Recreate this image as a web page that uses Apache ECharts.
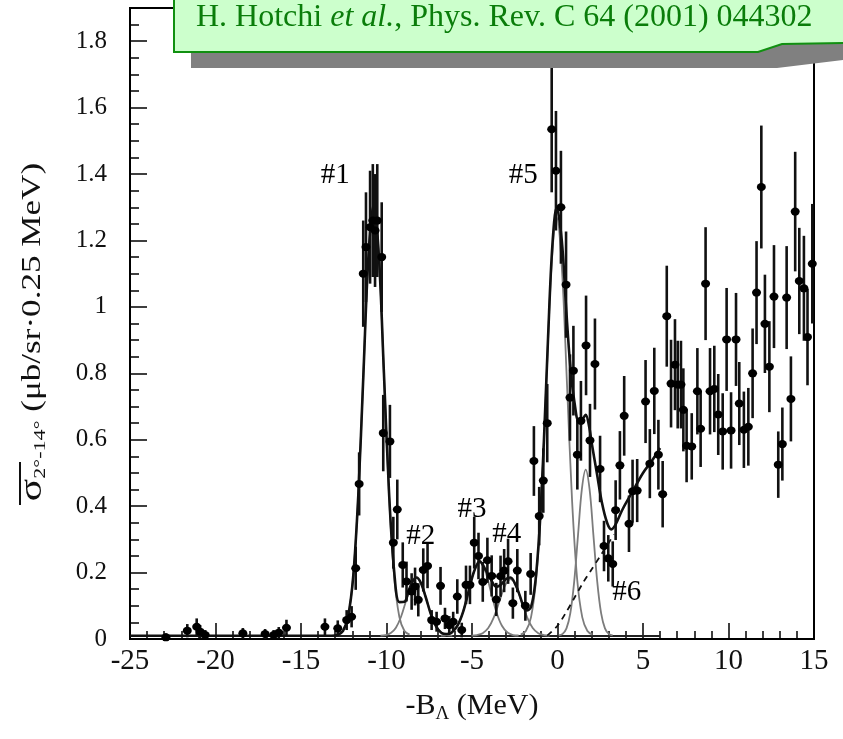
<!DOCTYPE html>
<html lang="en">
<head>
    <meta charset="UTF-8">
    <title>Hypernuclear spectrum</title>
    <script src="https://cdn.jsdelivr.net/npm/echarts@6/dist/echarts.min.js"></script>
    <style>
        html, body { margin: 0; padding: 0; background: #fff; }
    </style>
</head>
<body>
    <div id="main" style="width: 843px;height:739px;"></div>
    <script>
        var chartDom = document.getElementById('main');
        var myChart = echarts.init(chartDom);

        // measured points: [-B_Lambda (MeV), cross section, error]
        const points = [
            [-22.9, 0.005, 0.012], [-21.65, 0.025, 0.02], [-21.1, 0.037, 0.025], [-20.9, 0.022, 0.02],
            [-20.6, 0.012, 0.015], [-18.4, 0.017, 0.016], [-17.1, 0.015, 0.015], [-16.6, 0.012, 0.015],
            [-16.3, 0.019, 0.017], [-15.85, 0.034, 0.024], [-13.6, 0.037, 0.025], [-12.85, 0.032, 0.024],
            [-12.33, 0.057, 0.03], [-12.04, 0.067, 0.032], [-11.8, 0.213, 0.065], [-11.6, 0.467, 0.095],
            [-11.36, 1.10, 0.16], [-11.2, 1.18, 0.165], [-10.96, 1.24, 0.17], [-10.8, 1.26, 0.17],
            [-10.67, 1.23, 0.17], [-10.54, 1.26, 0.17], [-10.28, 1.15, 0.165], [-10.19, 0.62, 0.115],
            [-9.8, 0.595, 0.11], [-9.6, 0.29, 0.078], [-9.37, 0.39, 0.09], [-9.05, 0.223, 0.068],
            [-8.83, 0.173, 0.06], [-8.53, 0.143, 0.055], [-8.33, 0.158, 0.057], [-8.14, 0.118, 0.05],
            [-7.85, 0.208, 0.065], [-7.6, 0.22, 0.067], [-7.36, 0.057, 0.03], [-7.07, 0.052, 0.03],
            [-6.84, 0.16, 0.057], [-6.58, 0.062, 0.032], [-6.33, 0.042, 0.027], [-6.1, 0.052, 0.03],
            [-5.86, 0.128, 0.052], [-5.6, 0.027, 0.022], [-5.35, 0.163, 0.058], [-5.12, 0.163, 0.058],
            [-4.87, 0.29, 0.078], [-4.62, 0.25, 0.07], [-4.37, 0.172, 0.06], [-4.1, 0.237, 0.068],
            [-3.85, 0.19, 0.062], [-3.58, 0.119, 0.05], [-3.33, 0.189, 0.062], [-3.12, 0.206, 0.065],
            [-2.89, 0.234, 0.068], [-2.61, 0.108, 0.047], [-2.35, 0.206, 0.065], [-1.88, 0.10, 0.045],
            [-1.57, 0.196, 0.063], [-1.38, 0.536, 0.105], [-1.07, 0.37, 0.088], [-0.83, 0.477, 0.097],
            [-0.6, 0.65, 0.118], [-0.34, 1.535, 0.19], [-0.09, 1.41, 0.18], [0.2, 1.30, 0.17],
            [0.5, 1.067, 0.16], [0.73, 0.727, 0.13], [0.93, 0.808, 0.135], [1.16, 0.555, 0.105],
            [1.37, 0.657, 0.12], [1.67, 0.884, 0.15], [1.9, 0.598, 0.11], [2.19, 0.828, 0.137],
            [2.49, 0.512, 0.1], [2.72, 0.28, 0.076], [2.97, 0.243, 0.07], [3.23, 0.226, 0.068],
            [3.4, 0.388, 0.09], [3.65, 0.523, 0.103], [3.9, 0.672, 0.12], [4.18, 0.347, 0.085],
            [4.39, 0.445, 0.095], [4.66, 0.447, 0.095], [5.15, 0.715, 0.125], [5.4, 0.528, 0.104],
            [5.66, 0.747, 0.13], [5.9, 0.555, 0.105], [6.15, 0.436, 0.1], [6.39, 0.972, 0.152],
            [6.64, 0.769, 0.132], [6.87, 0.826, 0.137], [7.03, 0.766, 0.132], [7.22, 0.766, 0.132],
            [7.36, 0.69, 0.125], [7.55, 0.582, 0.11], [7.85, 0.58, 0.1], [8.18, 0.746, 0.13],
            [8.37, 0.633, 0.115], [8.66, 1.07, 0.17], [8.92, 0.746, 0.13], [9.17, 0.753, 0.13],
            [9.4, 0.676, 0.122], [9.66, 0.625, 0.115], [9.89, 0.902, 0.155], [10.15, 0.628, 0.115],
            [10.44, 0.902, 0.14], [10.63, 0.709, 0.125], [10.9, 0.63, 0.115], [11.16, 0.639, 0.117],
            [11.41, 0.8, 0.135], [11.64, 1.043, 0.155], [11.92, 1.361, 0.185], [12.13, 0.949, 0.148],
            [12.39, 0.82, 0.137], [12.66, 1.031, 0.155], [12.91, 0.525, 0.1], [13.15, 0.587, 0.11],
            [13.4, 1.028, 0.155], [13.65, 0.723, 0.128], [13.9, 1.287, 0.18], [14.14, 1.078, 0.16],
            [14.41, 1.056, 0.158], [14.62, 0.909, 0.145], [14.9, 1.13, 0.18]
        ];

        // total fit (thick line)
        const fitTotal = [
            [-25, 0.01], [-13.2, 0.01], [-12.85, 0.013], [-12.55, 0.024], [-12.25, 0.067], [-11.95, 0.186],
            [-11.65, 0.432], [-11.35, 0.798], [-11.05, 1.157], [-10.75, 1.31], [-10.45, 1.157], [-10.15, 0.8],
            [-9.85, 0.44], [-9.55, 0.203], [-9.25, 0.111], [-8.95, 0.112], [-8.7, 0.146], [-8.45, 0.176],
            [-8.25, 0.185], [-8.0, 0.17], [-7.7, 0.125], [-7.4, 0.074], [-7.1, 0.038], [-6.8, 0.019],
            [-6.5, 0.015], [-6.2, 0.019], [-5.85, 0.04], [-5.525, 0.081], [-5.2, 0.143], [-4.875, 0.204],
            [-4.55, 0.234], [-4.225, 0.21], [-3.9, 0.18], [-3.575, 0.157], [-3.3, 0.164], [-3.0, 0.181],
            [-2.75, 0.185], [-2.45, 0.163], [-2.2, 0.13], [-2.0, 0.1], [-1.8, 0.086], [-1.55, 0.096],
            [-1.3, 0.17], [-1.05, 0.33], [-0.8, 0.59], [-0.55, 0.91], [-0.3, 1.185], [-0.05, 1.30],
            [0.25, 1.2], [0.5, 1.0], [0.75, 0.82], [1.0, 0.71], [1.25, 0.655], [1.5, 0.665],
            [1.65, 0.675], [1.85, 0.64], [2.0, 0.59], [2.3, 0.5], [2.6, 0.41], [2.9, 0.35],
            [3.15, 0.33], [3.4, 0.345], [3.8, 0.39], [4.4, 0.445], [5.0, 0.5], [5.5, 0.535], [6.0, 0.575]
        ];

        // single peak components (thin grey lines)
        const peak1 = [[-12.85, 0.013], [-12.55, 0.024], [-12.25, 0.067], [-11.95, 0.186], [-11.65, 0.432], [-11.35, 0.798], [-11.05, 1.157], [-10.75, 1.31], [-10.45, 1.157], [-10.15, 0.798], [-9.85, 0.432], [-9.55, 0.186], [-9.25, 0.067], [-8.95, 0.024], [-8.65, 0.013]];
        const peak2 = [[-10.35, 0.0104], [-10.05, 0.012], [-9.75, 0.018], [-9.45, 0.034], [-9.15, 0.067], [-8.85, 0.116], [-8.55, 0.164], [-8.25, 0.185], [-7.95, 0.164], [-7.65, 0.116], [-7.35, 0.067], [-7.05, 0.034], [-6.75, 0.018], [-6.45, 0.012], [-6.15, 0.0104]];
        const peak3 = [[-6.825, 0.0105], [-6.5, 0.012], [-6.175, 0.0197], [-5.85, 0.0398], [-5.525, 0.0814], [-5.2, 0.143], [-4.875, 0.204], [-4.55, 0.23], [-4.225, 0.204], [-3.9, 0.143], [-3.575, 0.0814], [-3.25, 0.0398], [-2.925, 0.0197], [-2.6, 0.012], [-2.275, 0.0105]];
        const peak4 = [[-5.025, 0.0104], [-4.7, 0.012], [-4.375, 0.0175], [-4.05, 0.033], [-3.725, 0.0652], [-3.4, 0.113], [-3.075, 0.16], [-2.75, 0.18], [-2.425, 0.16], [-2.1, 0.113], [-1.775, 0.0652], [-1.45, 0.033], [-1.125, 0.0175], [-0.8, 0.012], [-0.475, 0.0104]];
        const peak5 = [[-2.15, 0.013], [-1.85, 0.024], [-1.55, 0.065], [-1.25, 0.18], [-0.95, 0.419], [-0.65, 0.774], [-0.35, 1.122], [-0.05, 1.27], [0.25, 1.122], [0.55, 0.774], [0.85, 0.419], [1.15, 0.18], [1.45, 0.065], [1.75, 0.024], [2.05, 0.013]];
        const peak6 = [[0.075, 0.011], [0.3, 0.0156], [0.525, 0.032], [0.75, 0.0777], [0.975, 0.172], [1.2, 0.313], [1.425, 0.451], [1.65, 0.51], [1.875, 0.451], [2.1, 0.313], [2.325, 0.172], [2.55, 0.0777], [2.775, 0.032], [3.0, 0.0156], [3.225, 0.011]];

        // quasi-free background (dashed)
        const background = [[-0.6, 0.01], [0, 0.04], [0.5, 0.08], [1, 0.125], [1.5, 0.17], [2, 0.21], [2.5, 0.25], [3, 0.29], [3.3, 0.315]];

        // baseline of the fit
        const fitBase = [[-25, 0.009], [6, 0.009]];

        const peakNames = ['#1', '#2', '#3', '#4', '#5', '#6'];

        const serif = 'Liberation Serif';

        function greyPeak(data) {
            return {
                type: 'line', data: data, smooth: 0.35, symbol: 'none', z: 3,
                lineStyle: { color: '#7c7c7c', width: 1.8 }
            };
        }

        var option = {
            animation: false,
            grid: {
                left: 130, right: 29, top: 8, bottom: 100,
                show: true, borderColor: '#000', borderWidth: 2
            },
            xAxis: {
                type: 'value',
                min: -25, max: 15, interval: 5,
                name: '-B{sub|Λ} (MeV)',
                nameLocation: 'middle',
                nameGap: 50,
                nameTextStyle: {
                    fontFamily: serif, fontSize: 30, color: '#111',
                    rich: { sub: { fontFamily: serif, fontSize: 19, color: '#111', padding: [16, 0, 0, 0] } }
                },
                axisLine: { onZero: false, lineStyle: { color: '#000', width: 2 } },
                axisTick: { inside: true, length: 16, lineStyle: { color: '#000', width: 1.5 } },
                minorTick: { show: true, splitNumber: 5, length: 8, lineStyle: { color: '#000', width: 1.5 } },
                axisLabel: { fontFamily: serif, fontSize: 29, color: '#111', margin: 8 },
                splitLine: { show: false }
            },
            yAxis: {
                type: 'value',
                min: 0, max: 1.9, interval: 0.2,
                axisLine: { show: true, onZero: false, lineStyle: { color: '#000', width: 2 } },
                axisTick: { inside: true, length: 17, lineStyle: { color: '#000', width: 1.5 } },
                minorTick: { show: true, splitNumber: 4, length: 9, lineStyle: { color: '#000', width: 1.5 } },
                axisLabel: { fontFamily: serif, fontSize: 25, color: '#111', margin: 23, showMaxLabel: false },
                splitLine: { show: false }
            },
            series: [
                {
                    type: 'line', data: fitBase, symbol: 'none', z: 3,
                    lineStyle: { color: '#222', width: 2 }
                },
                greyPeak(peak1), greyPeak(peak2), greyPeak(peak3),
                greyPeak(peak4), greyPeak(peak5), greyPeak(peak6),
                {
                    type: 'line', data: background, smooth: 0.3, symbol: 'none', z: 4,
                    lineStyle: { color: '#111', width: 1.8, type: [6, 5] }
                },
                {
                    type: 'line', data: fitTotal, smooth: 0.35, symbol: 'none', z: 5,
                    lineStyle: { color: '#111', width: 2.6 }
                },
                {
                    type: 'custom',
                    clip: true,
                    z: 6,
                    data: points,
                    renderItem: function (params, api) {
                        var x = api.value(0), y = api.value(1), e = api.value(2);
                        var p1 = api.coord([x, Math.max(0, y - e)]);
                        var p2 = api.coord([x, y + e]);
                        return {
                            type: 'line',
                            shape: { x1: p1[0], y1: p1[1], x2: p2[0], y2: p2[1] },
                            style: { stroke: '#111', lineWidth: 2.6 }
                        };
                    }
                },
                {
                    type: 'scatter', data: points, symbol: 'circle', symbolSize: [9, 8], z: 7,
                    itemStyle: { color: '#000', opacity: 1 }
                },
                {
                    type: 'scatter', symbolSize: 0, z: 8, silent: true,
                    itemStyle: { opacity: 1 },
                    data: [
                        { name: peakNames[0], value: [-13.0, 1.395] },
                        { name: peakNames[1], value: [-8.0, 0.31] },
                        { name: peakNames[2], value: [-5.0, 0.39] },
                        { name: peakNames[3], value: [-2.97, 0.314] },
                        { name: peakNames[4], value: [-2.0, 1.395] },
                        { name: peakNames[5], value: [4.05, 0.14] }
                    ],
                    label: {
                        show: true, position: 'inside', formatter: '{b}',
                        fontFamily: serif, fontSize: 29, color: '#000',
                        textBorderWidth: 0, opacity: 1
                    }
                }
            ],
            graphic: [
                {
                    type: 'text',
                    x: 33, y: 332,
                    rotation: Math.PI / 2,
                    scaleX: 1.3,
                    z: 10,
                    style: {
                        text: '{s|σ}{sub|2°-14°}{n| (μb/sr·0.25 MeV)}',
                        align: 'center', verticalAlign: 'middle',
                        fill: '#111',
                        rich: {
                            s: { fontFamily: serif, fontSize: 32, fill: '#111' },
                            sub: { fontFamily: serif, fontSize: 17, fill: '#111', padding: [16, 0, 0, 0] },
                            n: { fontFamily: serif, fontSize: 27, fill: '#111' }
                        }
                    }
                },
                {
                    type: 'line', z: 10,
                    shape: { x1: 20, y1: 462, x2: 20, y2: 505 },
                    style: { stroke: '#111', lineWidth: 2 }
                },
                {
                    type: 'polygon', z: 20,
                    shape: { points: [[191, 30], [843, 30], [843, 60], [777, 68], [191, 68]] },
                    style: { fill: '#808080' }
                },
                {
                    type: 'polygon', z: 21,
                    shape: { points: [[174, -5], [846, -5], [846, 43], [782, 44], [758, 52], [174, 52]] },
                    style: { fill: '#ccffcc', stroke: '#109010', lineWidth: 2 }
                },
                {
                    type: 'text', z: 22,
                    x: 196, y: 18,
                    style: {
                        text: '{n|H. Hotchi }{i|et al.}{n|, Phys. Rev. C 64 (2001) 044302}',
                        verticalAlign: 'middle',
                        rich: {
                            n: { fontFamily: serif, fontSize: 32, fill: '#0a7d0a' },
                            i: { fontFamily: serif, fontSize: 32, fontStyle: 'italic', fill: '#0a7d0a' }
                        }
                    }
                }
            ]
        };

        myChart.setOption(option);
    </script>
</body>
</html>
